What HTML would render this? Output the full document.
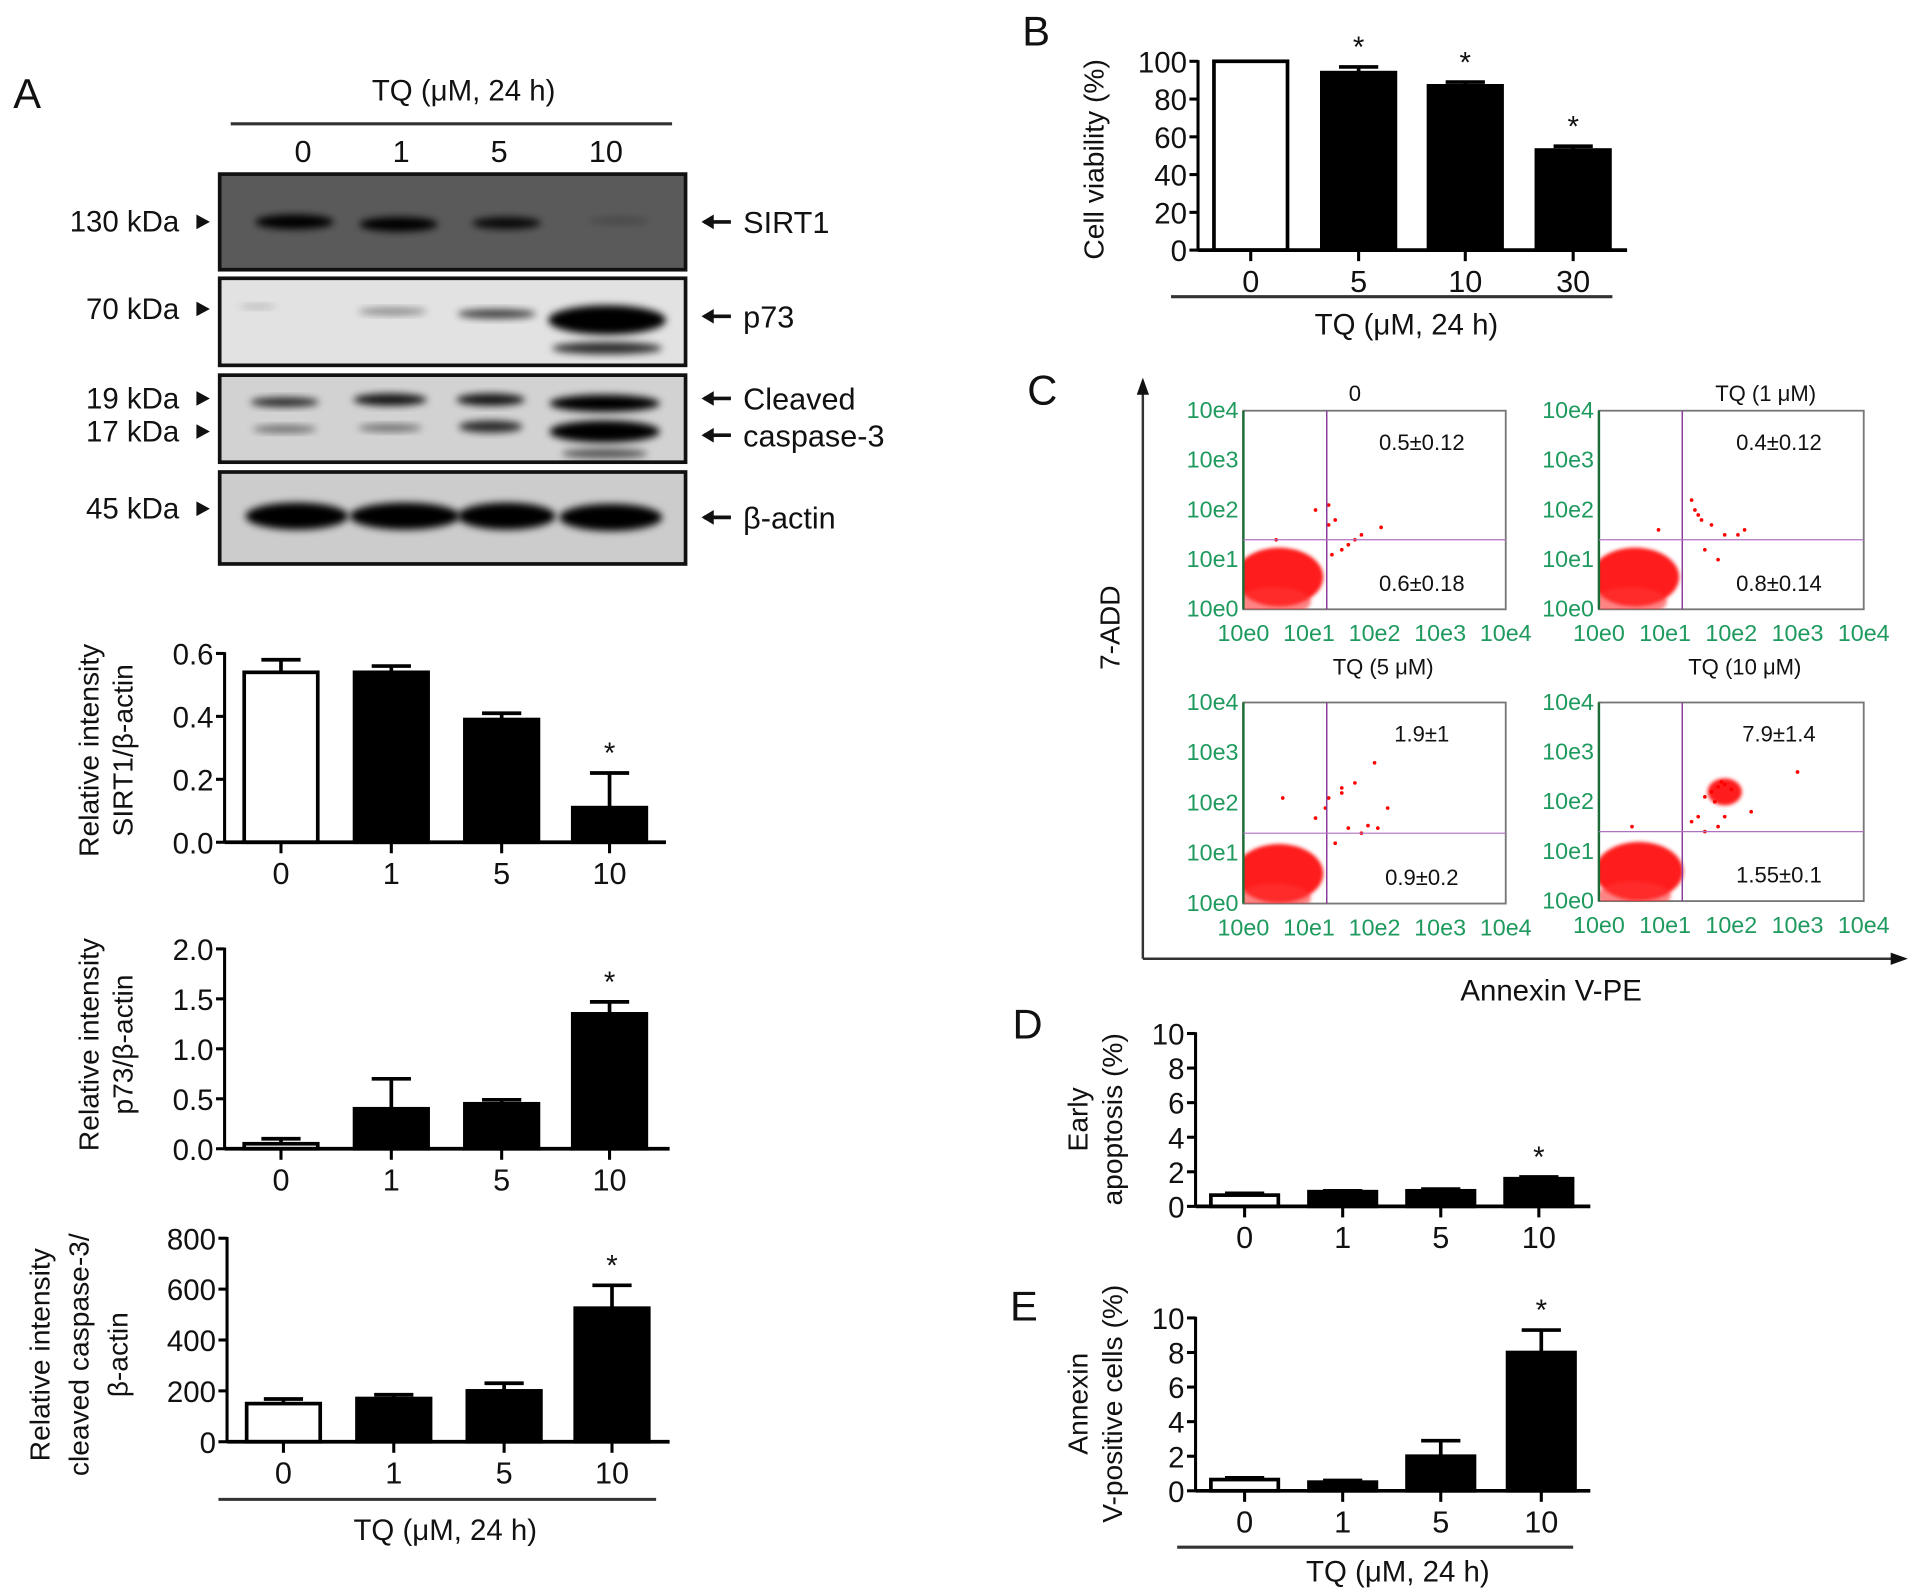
<!DOCTYPE html>
<html><head><meta charset="utf-8"><style>
html,body{margin:0;padding:0;background:#fff}
svg{display:block}
text{font-family:"Liberation Sans",Arial,sans-serif;fill:#111}
.g{fill:#1f9a5e}
</style></head><body>
<svg id="fig" width="1913" height="1595" viewBox="0 0 1560 1301" xmlns="http://www.w3.org/2000/svg">
<defs>
<filter id="blur" x="-20%" y="-50%" width="140%" height="200%"><feGaussianBlur stdDeviation="3"/></filter>
<filter id="soft" x="-20%" y="-20%" width="140%" height="140%"><feGaussianBlur stdDeviation="1.5"/></filter>
</defs>
<g id="root"></g>
</svg>
<script>
// ---------- data ----------
const doseA = ["0","1","5","10"];
const sirtVals = [0.54, 0.54, 0.39, 0.11];
const sirtErr = [0.04, 0.02, 0.02, 0.11];
const sirtTicks = [0, 0.2, 0.4, 0.6];
const sirtTickLabels = ["0.0","0.2","0.4","0.6"];
const p73Vals = [0.05, 0.4, 0.45, 1.35];
const p73Err = [0.05, 0.3, 0.04, 0.12];
const p73Ticks = [0, 0.5, 1.0, 1.5, 2.0];
const p73TickLabels = ["0.0","0.5","1.0","1.5","2.0"];
const caspVals = [150, 170, 200, 525];
const caspErr = [18, 15, 30, 90];
const caspTicks = [0, 200, 400, 600, 800];
const doseB = ["0","5","10","30"];
const viabVals = [100, 94, 87, 53];
const viabErr = [0, 3, 2, 2];
const viabTicks = [0,20,40,60,80,100];
const earlyVals = [0.65, 0.85, 0.9, 1.6];
const earlyErr = [0.1, 0.05, 0.1, 0.1];
const annexVals = [0.65, 0.5, 2.0, 8.0];
const annexErr = [0.1, 0.1, 0.9, 1.3];
const tenTicks = [0,2,4,6,8,10];
const flowTitles = ["0","TQ (1 μM)","TQ (5 μM)","TQ (10 μM)"];
const flowUR = ["0.5±0.12","0.4±0.12","1.9±1","7.9±1.4"];
const flowLR = ["0.6±0.18","0.8±0.14","0.9±0.2","1.55±0.1"];
const flowLogTicks = ["10e0","10e1","10e2","10e3","10e4"];
const flowPts = [
 [[1.3,1.7],[1.1,2.0],[1.4,1.8],[1.7,1.4],[1.8,1.5],[2.1,1.65],[1.5,1.2],[1.6,1.3],[1.35,1.1],[0.5,1.4],[1.3,2.1]],
 [[1.4,2.2],[1.5,1.9],[1.7,1.7],[1.9,1.5],[2.1,1.5],[2.2,1.6],[1.6,1.2],[1.8,1.0],[0.9,1.6],[1.45,2.0],[1.55,1.8]],
 [[1.3,2.1],[1.5,2.3],[1.7,2.4],[2.0,2.8],[2.2,1.9],[1.6,1.5],[1.8,1.4],[1.4,1.2],[0.6,2.1],[1.9,1.55],[2.05,1.5],[1.1,1.7],[1.25,1.9],[1.5,2.2]],
 [[1.6,2.1],[1.7,2.2],[1.8,2.3],[1.9,2.35],[1.75,2.0],[1.85,2.4],[2.0,2.25],[3.0,2.6],[2.3,1.8],[1.6,1.4],[1.8,1.5],[1.5,1.7],[0.5,1.5],[1.4,1.6],[1.9,1.7]]
];
const flowCluster = [[0.62,0.6],[0.62,0.6],[0.62,0.55],[0.68,0.55]];
const flowBlob = [null,null,null,[1.9,2.2]];

// ---------- helpers ----------
const NS="http://www.w3.org/2000/svg";
const root=document.getElementById('root');
const defs=document.querySelector('defs');
function el(tag,attrs,parent,txt){const e=document.createElementNS(NS,tag);for(const k in attrs)e.setAttribute(k,attrs[k]);if(txt!==undefined)e.textContent=txt;(parent||root).appendChild(e);return e;}
function txt(x,y,s,size,anchor,parent,name,extra){const t=el('text',Object.assign({x:x,y:y,'font-size':size,'text-anchor':anchor||'middle'},extra||{}),parent,s);

return t;}

function barChart(o){
 const g=el('g',{});
 
 
 const Y=v=>o.y0-(v/o.max)*(o.y0-o.yTop);
 o.vals.forEach((v,i)=>{
  const cx=o.cx[i];
  const e=o.err[i];
  if(e>0){
   el('line',{x1:cx,x2:cx,y1:Y(v),y2:Y(v+e),stroke:'#000','stroke-width':3},g);
   el('line',{x1:cx-16,x2:cx+16,y1:Y(v+e),y2:Y(v+e),stroke:'#000','stroke-width':3},g);
  }
  const r=el('rect',{x:cx-o.bw/2,y:Y(v),width:o.bw,height:o.y0-Y(v),fill:i==0?'#fff':'#000',stroke:'#000','stroke-width':3},g);
  
  
  if(o.star&&o.star[i]) txt(cx,Y(v+e)-8,'*',24,'middle',g,'significance-star',{fill:'#555'});
  el('line',{x1:cx,x2:cx,y1:o.y0,y2:o.y0+9,stroke:'#000','stroke-width':2.5},g);
  txt(cx,o.y0+34,o.cats[i],25,'middle',g,'x-tick-label');
 });
 el('line',{x1:o.ax,x2:o.ax,y1:o.yTop-1,y2:o.y0,stroke:'#000','stroke-width':2.5},g);
 el('line',{x1:o.ax,x2:o.xEnd,y1:o.y0,y2:o.y0,stroke:'#000','stroke-width':3},g);
 o.ticks.forEach((t,i)=>{
  el('line',{x1:o.ax-7,x2:o.ax,y1:Y(t),y2:Y(t),stroke:'#000','stroke-width':2.5},g);
  txt(o.ax-9,Y(t)+9,o.tickLabels?o.tickLabels[i]:String(t),24,'end',g,'y-tick-label');
 });
 o.ytitle.forEach((s,i)=>{
  const x=o.ytx[i];
  txt(x,o.tyc,s,23,'middle',g,'y-axis-title',{transform:`rotate(-90 ${x} ${o.tyc})`});
 });
}

// ---------- Panel A: western blot ----------
txt(22,88,'A',34,'middle',null,'panel-label-a');
txt(378,82,'TQ (μM, 24 h)',24,'middle',null,'blot-treatment-title');
el('line',{x1:188,x2:548,y1:101,y2:101,stroke:'#333','stroke-width':2.5});
const laneX=[247,327,407,494];
doseA.forEach((d,i)=>txt(laneX[i],132,d,25,'middle',null,'lane-label'));
const blots=[
 {y:142,h:78,bg:'#5a5a5a',name:'sirt1-blot',bands:[[240,181,32,6,1],[325,183,32,6,1],[413,182,28,5,0.9],[505,180,25,3,0.2]]},
 {y:227,h:71,bg:'#e2e2e2',name:'p73-blot',bands:[[210,250,15,2,0.2],[320,254,28,3,0.4],[405,256,32,4,0.7],[495,261,48,12,1],[495,284,45,5,0.8]]},
 {y:306,h:71,bg:'#d2d2d2',name:'caspase3-blot',bands:[[232,328,28,4,0.8],[318,326,30,5,0.9],[400,326,28,5,0.9],[493,329,45,7,1],[232,350,26,3,0.5],[318,349,26,3,0.5],[400,348,26,5,0.8],[493,352,45,9,1],[493,370,35,4,0.6]]},
 {y:385,h:75,bg:'#cccccc',name:'beta-actin-blot',bands:[[242,421,42,11,1],[330,421,45,11,1],[413,421,40,11,1],[498,422,42,11,1]]}
];
blots.forEach(b=>{
 const g=el('g',{});
 
 
 el('rect',{x:179,y:b.y,width:380,height:b.h,fill:b.bg,stroke:'#111','stroke-width':3},g);
 b.bands.forEach(bd=>el('ellipse',{cx:bd[0],cy:bd[1],rx:bd[2],ry:bd[3],fill:'#000','fill-opacity':bd[4],filter:'url(#blur)'},g));
});
[['130 kDa',181],['70 kDa',252],['19 kDa',325],['17 kDa',352],['45 kDa',415]].forEach(m=>{
 txt(146,m[1]+8,m[0],24,'end',null,'marker-label');
 el('path',{d:`M160,${m[1]-6} L171,${m[1]} L160,${m[1]+6} z`,fill:'#111'});
});
[['SIRT1',181],['p73',258],['Cleaved',325],['caspase-3',355],['β-actin',422]].forEach(m=>{
 el('line',{x1:574,x2:596,y1:m[1],y2:m[1],stroke:'#111','stroke-width':3});
 el('path',{d:`M572,${m[1]} L582,${m[1]-6} L582,${m[1]+6} z`,fill:'#111'});
 txt(606,m[1]+9,m[0],25,'start',null,'protein-label');
});

const cA=[229,319,409,497];
barChart({name:'sirt1-chart',cats:doseA,vals:sirtVals,err:sirtErr,cx:cA,bw:60,ax:183,xEnd:543,y0:687,yTop:533,max:0.6,ticks:sirtTicks,tickLabels:sirtTickLabels,star:[0,0,0,1],ytitle:['Relative intensity','SIRT1/β-actin'],ytx:[80,108],tyc:612});
barChart({name:'p73-chart',cats:doseA,vals:p73Vals,err:p73Err,cx:cA,bw:60,ax:183,xEnd:546,y0:937,yTop:774,max:2.0,ticks:p73Ticks,tickLabels:p73TickLabels,star:[0,0,0,1],ytitle:['Relative intensity','p73/β-actin'],ytx:[80,108],tyc:852});
barChart({name:'caspase3-chart',cats:doseA,vals:caspVals,err:caspErr,cx:[231,321,411,499],bw:60,ax:185,xEnd:546,y0:1176,yTop:1010,max:800,ticks:caspTicks,star:[0,0,0,1],ytitle:['Relative intensity','cleaved caspase-3/','β-actin'],ytx:[40,72,104],tyc:1105});
el('line',{x1:178,x2:535,y1:1223,y2:1223,stroke:'#333','stroke-width':2.5});
txt(363,1256,'TQ (μM, 24 h)',24,'middle',null,'x-axis-title-a');

// ---------- Panel B ----------
txt(845,37,'B',34,'middle',null,'panel-label-b');
barChart({name:'viability-chart',cats:doseB,vals:viabVals,err:viabErr,cx:[1020,1108,1195,1283],bw:60,ax:977,xEnd:1327,y0:204,yTop:50,max:100,ticks:viabTicks,star:[0,1,1,1],ytitle:['Cell viability (%)'],ytx:[900],tyc:130});
el('line',{x1:955,x2:1315,y1:242,y2:242,stroke:'#333','stroke-width':2.5});
txt(1147,273,'TQ (μM, 24 h)',24,'middle',null,'x-axis-title-b');

// ---------- Panel C: flow cytometry ----------
txt(850,330,'C',34,'middle',null,'panel-label-c');
el('line',{x1:932,x2:932,y1:318,y2:782,stroke:'#333','stroke-width':2});
el('path',{d:'M932,308 L927,322 L937,322 z',fill:'#111'});
el('line',{x1:932,x2:1545,y1:782,y2:782,stroke:'#333','stroke-width':2});
el('path',{d:'M1556,782 L1542,777 L1542,787 z',fill:'#111'});
txt(913,512,'7-ADD',23,'middle',null,'flow-y-title',{transform:'rotate(-90 913 512)'});
txt(1265,816,'Annexin V-PE',24,'middle',null,'flow-x-title');
const boxes=[[1014,335,214,162],[1304,335,216,162],[1014,573,214,164],[1304,573,216,162]];
const titlePos=[[1105,327],[1440,327],[1128,550],[1423,550]];
boxes.forEach((b,k)=>{
 const [x,y,w,h]=b;
 const cp=el('clipPath',{id:'cp'+k},defs);
 el('rect',{x:x,y:y,width:w,height:h},cp);
 const g=el('g',{});
 
 
 const LX=v=>x+v/4*w, LY=v=>y+h-v/4*h;
 el('rect',{x:x,y:y,width:w,height:h,fill:'#fff',stroke:'#777','stroke-width':1.5},g);
 txt(titlePos[k][0],titlePos[k][1],flowTitles[k],18,'middle',g,'flow-plot-title');
 flowLogTicks.forEach((t,i)=>{
  txt(x-4,LY(i)+6,t,19,'end',g,'flow-y-tick',{class:'g'});
  txt(LX(i),y+h+26,t,19,'middle',g,'flow-x-tick',{class:'g'});
 });
 const cg=el('g',{'clip-path':`url(#cp${k})`},g);
 const c=flowCluster[k];
 el('ellipse',{cx:LX(c[0])-4,cy:LY(c[1])-2,rx:36,ry:24,fill:'#ff1a1a',filter:'url(#soft)'},cg);
 el('ellipse',{cx:LX(c[0])-8,cy:LY(c[1])+18,rx:30,ry:12,fill:'#ff3030','fill-opacity':0.6,filter:'url(#soft)'},cg);
 if(flowBlob[k]) el('ellipse',{cx:LX(flowBlob[k][0]),cy:LY(flowBlob[k][1]),rx:14,ry:11,fill:'#ff1a1a',filter:'url(#soft)'},cg);
 flowPts[k].forEach(p=>el('circle',{cx:LX(p[0]),cy:LY(p[1]),r:1.5,fill:'#f00'},cg));
 el('line',{x1:x,x2:x,y1:y,y2:y+h,stroke:'#1a6b35','stroke-width':2},g);
 el('line',{x1:x+68,x2:x+68,y1:y,y2:y+h,stroke:'#8a3a9a','stroke-width':1.2},g);
 el('line',{x1:x,x2:x+w,y1:y+h*0.65,y2:y+h*0.65,stroke:'#b070c0','stroke-width':1},g);
 txt(x+w*0.68,y+32,flowUR[k],18,'middle',g,'upper-right-percent');
 txt(x+w*0.68,y+h-15,flowLR[k],18,'middle',g,'lower-right-percent');
});

// ---------- Panel D & E ----------
txt(838,847,'D',34,'middle',null,'panel-label-d');
const cD=[1015,1095,1175,1255];
barChart({name:'early-apoptosis-chart',cats:doseA,vals:earlyVals,err:earlyErr,cx:cD,bw:55,ax:975,xEnd:1297,y0:984,yTop:843,max:10,ticks:tenTicks,star:[0,0,0,1],ytitle:['Early','apoptosis (%)'],ytx:[887,915],tyc:913});
txt(835,1077,'E',34,'middle',null,'panel-label-e');
barChart({name:'annexin-positive-chart',cats:doseA,vals:annexVals,err:annexErr,cx:[1015,1095,1175,1257],bw:55,ax:975,xEnd:1297,y0:1216,yTop:1075,max:10,ticks:tenTicks,star:[0,0,0,1],ytitle:['Annexin','V-positive cells (%)'],ytx:[887,915],tyc:1145});
el('line',{x1:960,x2:1283,y1:1262,y2:1262,stroke:'#333','stroke-width':2.5});
txt(1140,1290,'TQ (μM, 24 h)',24,'middle',null,'x-axis-title-e');
</script>
</body></html>
